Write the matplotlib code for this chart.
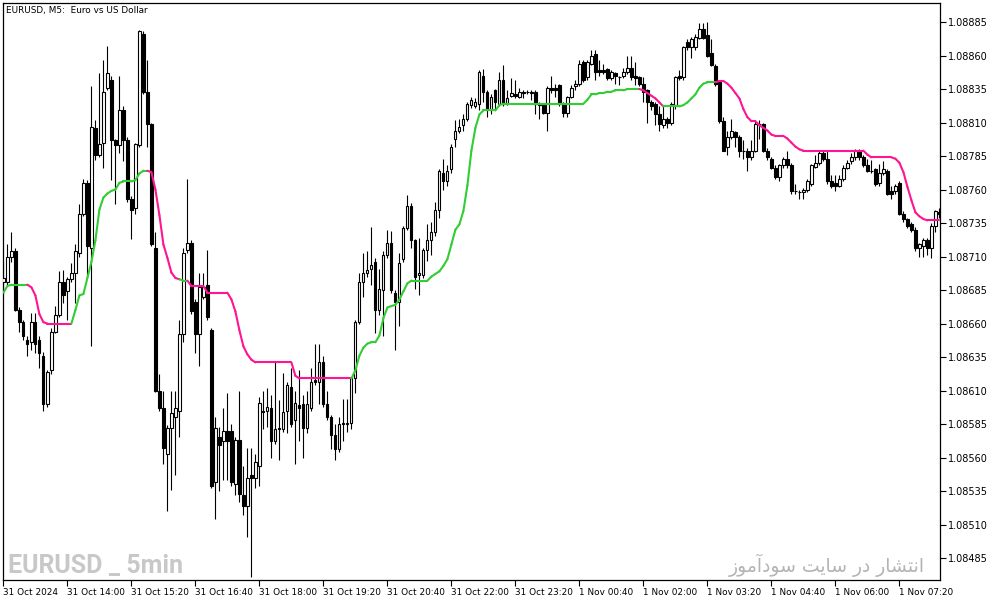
import numpy as np
import pandas as pd
import matplotlib
matplotlib.use('Agg')
import matplotlib.pyplot as plt
from matplotlib.collections import LineCollection

# EURUSD M5 candles, prices in points (1 point = 0.00001)
opens = [
    108691, 108691, 108710, 108714, 108670, 108661, 108648, 108646, 108661, 108648,
    108636, 108600, 108625, 108654, 108666, 108691, 108684, 108693, 108698, 108713,
    108742, 108765, 108716, 108806, 108786, 108795, 108836, 108842, 108797, 108793,
    108819, 108797, 108753, 108746, 108793, 108876, 108833, 108809, 108716, 108610,
    108597, 108563, 108582, 108590, 108595, 108652, 108715, 108720, 108676, 108652,
    108680, 108689, 108655, 108542, 108575, 108572, 108580, 108580, 108540, 108573,
    108532, 108524, 108547, 108545, 108554, 108595, 108595, 108597, 108572, 108582,
    108581, 108595, 108613, 108588, 108599, 108600, 108582, 108597, 108618, 108616,
    108631, 108600, 108590, 108577, 108566, 108586, 108585, 108586, 108619, 108661,
    108691, 108698, 108701, 108706, 108670, 108685, 108711, 108720, 108683, 108676,
    108708, 108731, 108748, 108722, 108696, 108696, 108715, 108722, 108728, 108745,
    108772, 108766, 108775, 108798, 108804, 108808, 108813, 108823, 108822, 108824,
    108845, 108833, 108819, 108834, 108824, 108842, 108824, 108830, 108831, 108829,
    108833, 108833, 108833, 108833, 108824, 108823, 108817, 108836, 108836, 108838,
    108824, 108817, 108829, 108837, 108839, 108855, 108844, 108854, 108861, 108849,
    108849, 108850, 108843, 108847, 108844, 108845, 108848, 108851, 108845, 108844,
    108839, 108834, 108825, 108824, 108816, 108808, 108813, 108810, 108823, 108845,
    108844, 108870, 108866, 108866, 108873, 108880, 108875, 108862, 108852, 108840,
    108811, 108792, 108799, 108803, 108799, 108789, 108789, 108784, 108789, 108809,
    108809, 108789, 108783, 108776, 108769, 108778, 108783, 108778, 108759, 108758,
    108758, 108760, 108764, 108777, 108780, 108787, 108783, 108766, 108765, 108763,
    108768, 108776, 108781, 108784, 108789, 108784, 108778, 108774, 108775, 108765,
    108772, 108774, 108759, 108759, 108765, 108742, 108738, 108734, 108730, 108716,
    108718, 108722, 108716, 108733, 108743]
highs = [
    108706, 108719, 108728, 108716, 108672, 108663, 108651, 108668, 108668, 108651,
    108639, 108625, 108657, 108673, 108699, 108700, 108695, 108705, 108719, 108749,
    108768, 108767, 108837, 108812, 108847, 108857, 108867, 108845, 108798, 108845,
    108822, 108799, 108755, 108795, 108879, 108878, 108857, 108810, 108728, 108622,
    108610, 108584, 108610, 108610, 108663, 108716, 108768, 108722, 108678, 108698,
    108698, 108715, 108657, 108590, 108583, 108597, 108608, 108585, 108575, 108610,
    108554, 108567, 108567, 108563, 108605, 108610, 108612, 108607, 108631, 108603,
    108623, 108616, 108627, 108610, 108625, 108607, 108610, 108627, 108645, 108645,
    108636, 108610, 108592, 108585, 108590, 108604, 108604, 108620, 108663, 108698,
    108713, 108714, 108732, 108709, 108701, 108714, 108730, 108729, 108685, 108713,
    108733, 108756, 108750, 108723, 108724, 108716, 108734, 108736, 108751, 108775,
    108783, 108778, 108794, 108812, 108813, 108816, 108825, 108829, 108828, 108849,
    108850, 108834, 108831, 108835, 108848, 108853, 108834, 108843, 108842, 108836,
    108834, 108834, 108834, 108834, 108825, 108824, 108837, 108845, 108839, 108839,
    108825, 108830, 108838, 108842, 108857, 108857, 108857, 108864, 108864, 108857,
    108854, 108851, 108849, 108848, 108845, 108851, 108860, 108860, 108855, 108845,
    108844, 108835, 108827, 108825, 108822, 108822, 108814, 108825, 108845, 108849,
    108867, 108872, 108874, 108876, 108884, 108884, 108885, 108872, 108854, 108842,
    108814, 108804, 108813, 108804, 108801, 108797, 108791, 108797, 108812, 108812,
    108810, 108791, 108784, 108778, 108779, 108784, 108789, 108780, 108764, 108760,
    108761, 108768, 108779, 108786, 108789, 108789, 108789, 108771, 108771, 108771,
    108778, 108782, 108787, 108790, 108790, 108786, 108783, 108782, 108776, 108779,
    108781, 108775, 108763, 108764, 108766, 108744, 108739, 108736, 108732, 108720,
    108724, 108724, 108735, 108745, 108746]
lows = [
    108683, 108689, 108706, 108669, 108654, 108648, 108636, 108640, 108638, 108627,
    108595, 108598, 108622, 108653, 108665, 108675, 108663, 108691, 108675, 108710,
    108740, 108695, 108643, 108782, 108784, 108776, 108834, 108767, 108749, 108787,
    108781, 108751, 108723, 108742, 108792, 108831, 108792, 108718, 108609, 108595,
    108555, 108520, 108536, 108547, 108575, 108646, 108713, 108667, 108638, 108628,
    108678, 108663, 108537, 108514, 108535, 108543, 108543, 108539, 108532, 108527,
    108517, 108501, 108471, 108537, 108539, 108581, 108583, 108560, 108570, 108558,
    108579, 108578, 108583, 108555, 108572, 108560, 108578, 108595, 108614, 108600,
    108598, 108588, 108566, 108558, 108564, 108572, 108579, 108581, 108608, 108660,
    108680, 108695, 108689, 108653, 108666, 108651, 108709, 108683, 108640, 108658,
    108706, 108730, 108716, 108686, 108681, 108694, 108707, 108711, 108725, 108739,
    108760, 108763, 108772, 108792, 108802, 108804, 108811, 108821, 108821, 108819,
    108825, 108814, 108816, 108819, 108822, 108822, 108823, 108829, 108828, 108828,
    108828, 108831, 108827, 108816, 108813, 108816, 108804, 108832, 108829, 108822,
    108814, 108814, 108828, 108834, 108837, 108840, 108842, 108853, 108842, 108845,
    108846, 108842, 108842, 108839, 108838, 108843, 108846, 108842, 108838, 108837,
    108825, 108810, 108819, 108808, 108804, 108806, 108806, 108808, 108820, 108842,
    108842, 108864, 108858, 108864, 108872, 108872, 108859, 108852, 108837, 108810,
    108789, 108786, 108798, 108792, 108784, 108783, 108774, 108782, 108788, 108798,
    108788, 108782, 108775, 108768, 108766, 108776, 108776, 108757, 108757, 108753,
    108753, 108758, 108763, 108776, 108778, 108781, 108764, 108761, 108759, 108762,
    108766, 108775, 108779, 108782, 108782, 108777, 108773, 108772, 108763, 108763,
    108771, 108756, 108753, 108757, 108741, 108736, 108731, 108728, 108714, 108710,
    108710, 108711, 108709, 108728, 108739]
closes = [
    108694, 108710, 108714, 108670, 108661, 108651, 108645, 108661, 108645, 108638,
    108600, 108624, 108654, 108666, 108691, 108681, 108693, 108698, 108714, 108742,
    108765, 108718, 108807, 108786, 108794, 108833, 108847, 108797, 108793, 108819,
    108797, 108753, 108745, 108794, 108878, 108833, 108809, 108719, 108610, 108597,
    108567, 108582, 108593, 108597, 108652, 108713, 108720, 108669, 108652, 108687,
    108687, 108665, 108539, 108582, 108569, 108580, 108572, 108542, 108573, 108533,
    108524, 108545, 108545, 108557, 108601, 108594, 108598, 108572, 108581, 108581,
    108594, 108614, 108585, 108601, 108597, 108582, 108600, 108616, 108616, 108631,
    108600, 108590, 108577, 108566, 108585, 108585, 108586, 108619, 108661, 108691,
    108698, 108700, 108704, 108670, 108686, 108711, 108720, 108685, 108676, 108705,
    108731, 108748, 108722, 108695, 108698, 108715, 108722, 108728, 108745, 108774,
    108766, 108774, 108792, 108804, 108807, 108813, 108824, 108827, 108825, 108848,
    108833, 108819, 108829, 108825, 108842, 108824, 108828, 108832, 108830, 108833,
    108832, 108833, 108832, 108824, 108823, 108817, 108836, 108834, 108834, 108824,
    108817, 108829, 108836, 108839, 108854, 108842, 108855, 108860, 108848, 108848,
    108848, 108843, 108848, 108845, 108844, 108848, 108851, 108844, 108843, 108839,
    108833, 108825, 108822, 108816, 108809, 108813, 108810, 108824, 108844, 108843,
    108866, 108866, 108872, 108874, 108880, 108873, 108860, 108853, 108839, 108811,
    108789, 108799, 108804, 108799, 108789, 108789, 108784, 108789, 108809, 108809,
    108789, 108784, 108776, 108769, 108778, 108783, 108778, 108759, 108759, 108758,
    108760, 108766, 108778, 108780, 108787, 108783, 108766, 108763, 108763, 108768,
    108776, 108780, 108784, 108789, 108784, 108778, 108774, 108774, 108764, 108772,
    108775, 108757, 108757, 108763, 108742, 108738, 108733, 108730, 108716, 108719,
    108722, 108716, 108733, 108744, 108742]

# trend line indicator (points) and its colour runs
trend_line = [
    108683, 108688, 108689, 108689, 108689, 108689, 108689, 108687, 108681, 108667,
    108661, 108660, 108660, 108660, 108660, 108660, 108660, 108660, 108670, 108681,
    108682, 108694, 108706, 108722, 108745, 108754, 108757, 108759, 108760, 108765,
    108766, 108766, 108766, 108767, 108772, 108774, 108774, 108773, 108760, 108741,
    108719, 108709, 108698, 108694, 108693, 108692, 108692, 108688, 108688, 108688,
    108688, 108683, 108683, 108683, 108683, 108683, 108683, 108678, 108669, 108655,
    108643, 108637, 108633, 108631, 108631, 108631, 108631, 108631, 108631, 108631,
    108631, 108631, 108631, 108621, 108619, 108619, 108619, 108619, 108619, 108619,
    108619, 108619, 108619, 108619, 108619, 108619, 108619, 108619, 108625, 108636,
    108642, 108645, 108646, 108646, 108651, 108664, 108672, 108673, 108674, 108678,
    108684, 108690, 108692, 108692, 108692, 108692, 108692, 108695, 108697, 108699,
    108703, 108708, 108719, 108730, 108734, 108744, 108763, 108789, 108806, 108816,
    108819, 108819, 108819, 108819, 108823, 108824, 108824, 108824, 108824, 108824,
    108824, 108824, 108824, 108824, 108824, 108824, 108824, 108824, 108824, 108824,
    108824, 108824, 108824, 108824, 108824, 108824, 108827, 108831, 108831, 108832,
    108832, 108833, 108833, 108834, 108834, 108834, 108835, 108835, 108835, 108835,
    108834, 108832, 108830, 108828, 108825, 108822, 108822, 108822, 108822, 108822,
    108823, 108825, 108828, 108831, 108836, 108839, 108840, 108840, 108840, 108841,
    108841, 108839, 108836, 108832, 108828, 108820, 108814, 108811, 108811, 108808,
    108806, 108804, 108801, 108800, 108800, 108800, 108798, 108795, 108792, 108790,
    108789, 108789, 108789, 108789, 108789, 108789, 108789, 108789, 108789, 108789,
    108789, 108789, 108789, 108789, 108789, 108789, 108786, 108784, 108784, 108784,
    108784, 108784, 108784, 108783, 108780, 108773, 108762, 108752, 108743, 108740,
    108738, 108737, 108737, 108737, 108737]
trend_runs = [('up', 7), ('down', 11), ('up', 19), ('down', 8), ('up', 2),
              ('down', 41), ('up', 72), ('down', 6), ('up', 13), ('down', 56)]

start_time = '2024-10-31 12:40'
tick_times = ['2024-10-31 12:40', '2024-10-31 14:00', '2024-10-31 15:20',
              '2024-10-31 16:40', '2024-10-31 18:00', '2024-10-31 19:20',
              '2024-10-31 20:40', '2024-10-31 22:00', '2024-10-31 23:20',
              '2024-11-01 00:40', '2024-11-01 02:00', '2024-11-01 03:20',
              '2024-11-01 04:40', '2024-11-01 06:00', '2024-11-01 07:20']
tick_labels = ['31 Oct 2024', '31 Oct 14:00', '31 Oct 15:20', '31 Oct 16:40',
               '31 Oct 18:00', '31 Oct 19:20', '31 Oct 20:40', '31 Oct 22:00',
               '31 Oct 23:20', '1 Nov 00:40', '1 Nov 02:00', '1 Nov 03:20',
               '1 Nov 04:40', '1 Nov 06:00', '1 Nov 07:20']
price_ticks = [1.08485, 1.08510, 1.08535, 1.08560, 1.08585, 1.08610, 1.08635,
               1.08660, 1.08685, 1.08710, 1.08735, 1.08760, 1.08785, 1.08810,
               1.08835, 1.08860, 1.08885]

o = np.array(opens) / 1e5
h = np.array(highs) / 1e5
l = np.array(lows) / 1e5
c = np.array(closes) / 1e5
tl = np.array(trend_line) / 1e5
n = len(c)
assert len(o) == len(h) == len(l) == len(tl) == n
x = np.arange(n)
times = pd.date_range(start_time, periods=n, freq='5min')

fig = plt.figure(figsize=(9.94, 6.05), dpi=100)
ax = fig.add_axes([3 / 994, 25 / 605, 937 / 994, 577 / 605])

# candles
ax.vlines(x, l, h, color='black', linewidth=0.8, zorder=2)
up = c >= o
body_bot = np.minimum(o, c)
body_h = np.abs(c - o)
ax.bar(x[up], body_h[up], bottom=body_bot[up], width=0.55, color='white',
       edgecolor='black', linewidth=0.8, zorder=3)
ax.bar(x[~up], body_h[~up], bottom=body_bot[~up], width=0.55, color='black',
       edgecolor='black', linewidth=0.8, zorder=3)

# coloured trend line
colors = {'up': '#32CD32', 'down': '#FF1493'}
seg_colors = []
for name, cnt in trend_runs:
    seg_colors += [colors[name]] * cnt
pts = np.column_stack([x, tl])
segs = [pts[i - 1:i + 1] for i in range(1, n)]
lc = LineCollection(segs, colors=seg_colors[1:], linewidths=1.5, zorder=4,
                    capstyle='round')
ax.add_collection(lc)

ax.set_xlim(-0.1, -0.1 + 937 / 4)
ax.set_ylim(1.084686, 1.088992)

# axes styling
for sp in ax.spines.values():
    sp.set_color('black')
    sp.set_linewidth(0.9)
ax.yaxis.tick_right()
ax.set_yticks(price_ticks)
ax.set_yticklabels([f'{p:.5f}' for p in price_ticks])
ax.tick_params(axis='y', direction='out', length=4, width=0.8, pad=1.5,
               labelsize=7, colors='black')
tick_pos = times.get_indexer(pd.to_datetime(tick_times))
ax.set_xticks(tick_pos)
ax.set_xticklabels(tick_labels, ha='left')
ax.tick_params(axis='x', direction='out', length=4, width=0.8, pad=2,
               labelsize=6.4, colors='black')
for lab in ax.get_xticklabels():
    lab.set_horizontalalignment('left')

fig.text(6 / 994, 1 - 10 / 605, 'EURUSD, M5:  Euro vs US Dollar', fontsize=6.4,
         va='center', ha='left')

# watermarks
fig.text(8 / 994, 1 - 566 / 605, 'EURUSD _ 5min', fontsize=18,
         family=['Roboto', 'DejaVu Sans'], weight='bold',
         color='#C8C8C8', va='center', ha='left')
# "انتشار در سایت سودآموز" written with Arabic presentation forms in visual order
fa_text = ('\uFEAF\uFEEE\uFEE3\uFE81\uFEA9\uFEEE\uFEB3 '
           '\uFE96\uFBFE\uFE8E\uFEB3 '
           '\uFEAD\uFEA9 '
           '\uFEAD\uFE8E\uFEB8\uFE98\uFEE7\uFE8D')
fig.text(925 / 994, 1 - 565 / 605, fa_text, fontsize=13.5,
         family=['DejaVu Sans'], color='#B4B4B4', va='center', ha='right')

fig.savefig('out.png', dpi=100)
